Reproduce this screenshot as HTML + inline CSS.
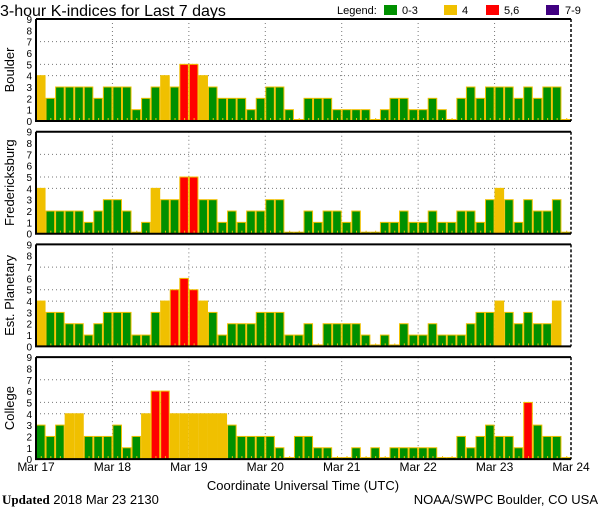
<!DOCTYPE html>
<html><head><meta charset="utf-8"><style>
html,body{margin:0;padding:0;background:#fff;}
svg{display:block;font-family:"Liberation Sans",sans-serif;}
</style></head><body>
<svg id="chart" width="600" height="510" viewBox="0 0 600 510">
<text x="0" y="16" font-size="16">3-hour K-indices for Last 7 days</text>
<g>
<text x="337" y="14" font-size="11">Legend:</text>
<rect x="384" y="5" width="13" height="10" fill="#009000"/>
<text x="402" y="14" font-size="11">0-3</text>
<rect x="444" y="5" width="13" height="10" fill="#f0c000"/>
<text x="462" y="14" font-size="11">4</text>
<rect x="486" y="5" width="13" height="10" fill="#ff0000"/>
<text x="504" y="14" font-size="11">5,6</text>
<rect x="546" y="5" width="13" height="10" fill="#400080"/>
<text x="565" y="14" font-size="11">7-9</text>
</g>
<text x="303" y="490" font-size="13" text-anchor="middle">Coordinate Universal Time (UTC)</text>
<text x="2" y="504" font-size="13"><tspan font-family="Liberation Serif" font-weight="bold">Updated</tspan> 2018 Mar 23 2130</text>
<text x="598" y="504" font-size="13" text-anchor="end">NOAA/SWPC Boulder, CO USA</text>
</svg>
<script>
const stations = ["Boulder","Fredericksburg","Est. Planetary","College"];
const boulder = [4,2,3,3,3,3,2,3,3,3,1,2,3,4,3,5,5,4,3,2,2,2,1,2,3,3,1,0,2,2,2,1,1,1,1,0,1,2,2,1,1,2,1,0,2,3,2,3,3,3,2,3,2,3,3,0];
const fredericksburg = [4,2,2,2,2,1,2,3,3,2,0,1,4,3,3,5,5,3,3,1,2,1,2,2,3,3,0,0,2,1,2,2,1,2,0,0,1,1,2,1,1,2,1,1,2,2,1,3,4,3,1,3,2,2,3,0];
const planetary = [4,3,3,2,2,1,2,3,3,3,1,1,3,4,5,6,5,4,3,1,2,2,2,3,3,3,1,1,2,0,2,2,2,2,1,0,1,0,2,1,1,2,1,1,1,2,3,3,4,3,2,3,2,2,4,null];
const college = [3,2,3,4,4,2,2,2,3,1,2,4,6,6,4,4,4,4,4,4,3,2,2,2,2,1,0,2,2,1,1,0,0,1,0,1,0,1,1,1,1,1,0,0,2,1,2,3,2,2,1,5,3,2,2,0];
const dayLabels = ["Mar 17","Mar 18","Mar 19","Mar 20","Mar 21","Mar 22","Mar 23","Mar 24"];
const yTicks = [0,1,2,3,4,5,6,7,8,9];
const gridLevels = [4,5,7];

const NS="http://www.w3.org/2000/svg";
const svg=document.getElementById('chart');
const series=[boulder,fredericksburg,planetary,college];
const X0=36, X1=571, N=56;
const bw=(X1-X0)/N;
function xScale(i){return X0+i*bw;}
function mk(tag,attrs,parent){const e=document.createElementNS(NS,tag);for(const k in attrs)e.setAttribute(k,attrs[k]);(parent||svg).appendChild(e);return e;}
function color(v){return v>=7?"#400080":v>=5?"#ff0000":v===4?"#f0c000":"#009000";}

series.forEach((data,p)=>{
  const top=19+p*112.7, bottom=top+102;
  const yScale=v=>bottom-v*(102/9);
  const g=mk('g',{});
  
  
  gridLevels.forEach(l=>{
    const ln=mk('line',{x1:X0,x2:X1,y1:yScale(l),y2:yScale(l),stroke:'#777','stroke-dasharray':'1,3'},g);
    
    
  });
  for(let d=1;d<7;d++){
    const x=xScale(d*8);
    const ln=mk('line',{x1:x,x2:x,y1:top,y2:bottom,stroke:'#777','stroke-dasharray':'1,3'},g);
    
    
  }
  data.forEach((v,i)=>{
    if(v===null||i>=N)return;
    const h=v===0?1.5:v*(102/9);
    const r=mk('rect',{x:xScale(i)+0.5,y:bottom-h,width:bw-1,height:h,fill:color(v),stroke:'#f0c000','stroke-width':1},g);
    
    
    const t=mk('rect',{x:xScale(i)+bw/2,y:bottom-3,width:1,height:2,fill:'#f0c000'},g);
    
    
  });
  const ax=mk('path',{d:`M${X0},${top}H${X1}M${X0},${top}V${bottom}H${X1}`,stroke:'#000','stroke-width':2,fill:'none'},g);
  
  
  const rb=mk('line',{x1:X1,x2:X1,y1:top,y2:bottom,stroke:'#000','stroke-width':1.5,'stroke-dasharray':'3,2'},g);
  
  
  yTicks.forEach(t=>{
    const tx=mk('text',{x:32,y:yScale(t)+4,'font-size':10,'text-anchor':'end'},g);
    tx.textContent=t;
    
    
  });
  const cy=(top+bottom)/2;
  const yl=mk('text',{x:14,y:cy,'font-size':13,'text-anchor':'middle',transform:`rotate(-90 14 ${cy})`},g);
  yl.textContent=stations[p];
  
  
});
dayLabels.forEach((lab,d)=>{
  const t=mk('text',{x:xScale(d*8),y:471,'font-size':12,'text-anchor':'middle'});
  t.textContent=lab;
  
  
});
</script>
</body></html>
